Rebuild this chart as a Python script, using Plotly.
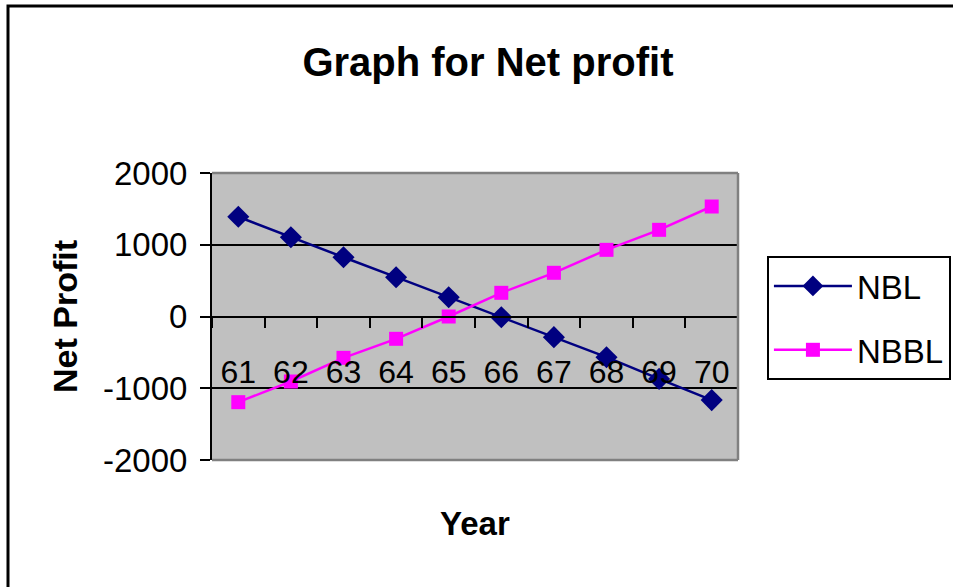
import plotly.graph_objects as go

# Year labels and net profit per series
years = ["61", "62", "63", "64", "65", "66", "67", "68", "69", "70"]
nbl = [1390, 1105, 826, 548, 269, -10, -288, -567, -870, -1165]
nbbl = [-1194, -906, -576, -311, 0, 330, 609, 929, 1208, 1533]

y_ticks = [-2000, -1000, 0, 1000, 2000]
y_tick_text = [str(v) for v in y_ticks]

FONT = "Arial, Liberation Sans, sans-serif"

fig = go.Figure()
fig.add_trace(go.Scatter(
    x=years, y=nbl, name="NBL", mode="lines+markers",
    line=dict(color="#000080", width=2.5),
    marker=dict(symbol="diamond", size=17, color="#000080"),
    legendgroup="a",
))
fig.add_trace(go.Scatter(
    x=years, y=nbbl, name="NBBL", mode="lines+markers",
    line=dict(color="#FF00FF", width=2.5),
    marker=dict(symbol="square", size=14, color="#FF00FF"),
    legendgroup="b",
))

fig.update_layout(
    width=953, height=587,
    margin=dict(l=212, r=215, t=173, b=127, autoexpand=False),
    paper_bgcolor="white",
    plot_bgcolor="#C0C0C0",
    font=dict(family=FONT, color="black"),
    title=dict(
        text="<b>Graph for Net profit</b>",
        font=dict(family=FONT, size=40, color="black"),
        x=0.512, xanchor="center", y=1 - 62 / 587, yanchor="middle",
        xref="container", yref="container",
    ),
    showlegend=True,
    legend=dict(
        x=1.055, y=0.711, xanchor="left", yanchor="top",
        bordercolor="black", borderwidth=2, bgcolor="white",
        font=dict(family=FONT, size=33, color="black"),
        tracegroupgap=18, itemwidth=78,
    ),
    xaxis=dict(
        type="category",
        range=[-0.5, len(years) - 0.5],
        tickson="boundaries",
        anchor="free", position=0.5,
        showline=True, linecolor="black", linewidth=2,
        ticks="outside", ticklen=10, tickwidth=2, tickcolor="black",
        showgrid=False, zeroline=False,
        tickfont=dict(family=FONT, size=32, color="black"),
        ticklabelstandoff=27,
    ),
    yaxis=dict(
        range=[-2000, 2000], tickvals=y_ticks, ticktext=y_tick_text,
        showline=True, linecolor="black", linewidth=2,
        ticks="outside", ticklen=10, tickwidth=2, tickcolor="black",
        showgrid=True, gridcolor="black", gridwidth=2,
        zeroline=True, zerolinecolor="black", zerolinewidth=2,
        tickfont=dict(family=FONT, size=33, color="black"),
        ticklabelstandoff=6,
    ),
    annotations=[
        dict(text="<b>Year</b>", xref="paper", yref="paper",
             x=(475 - 212) / 526, y=(460 - 523) / 287,
             xanchor="center", yanchor="middle", showarrow=False,
             font=dict(family=FONT, size=33, color="black")),
        dict(text="<b>Net Profit</b>", xref="paper", yref="paper",
             x=(65 - 212) / 526, y=(460 - 317) / 287, textangle=-90,
             xanchor="center", yanchor="middle", showarrow=False,
             font=dict(family=FONT, size=34, color="black")),
    ],
    shapes=[
        # grey frame on the top, right and bottom sides of the plot area
        dict(type="line", xref="paper", yref="paper", x0=0, x1=1, y0=1, y1=1,
             line=dict(color="#808080", width=2.5), layer="above"),
        dict(type="line", xref="paper", yref="paper", x0=1, x1=1, y0=0, y1=1,
             line=dict(color="#808080", width=2.5), layer="above"),
        dict(type="line", xref="paper", yref="paper", x0=0, x1=1, y0=0, y1=0,
             line=dict(color="#808080", width=2.5), layer="above"),
        # outer chart border
        dict(type="rect", xref="paper", yref="paper",
             x0=(8 - 212) / 526, x1=(970 - 212) / 526,
             y0=(460 - 620) / 287, y1=(460 - 6) / 287,
             line=dict(color="black", width=3), layer="below"),
    ],
)

fig.write_html("out.html")
